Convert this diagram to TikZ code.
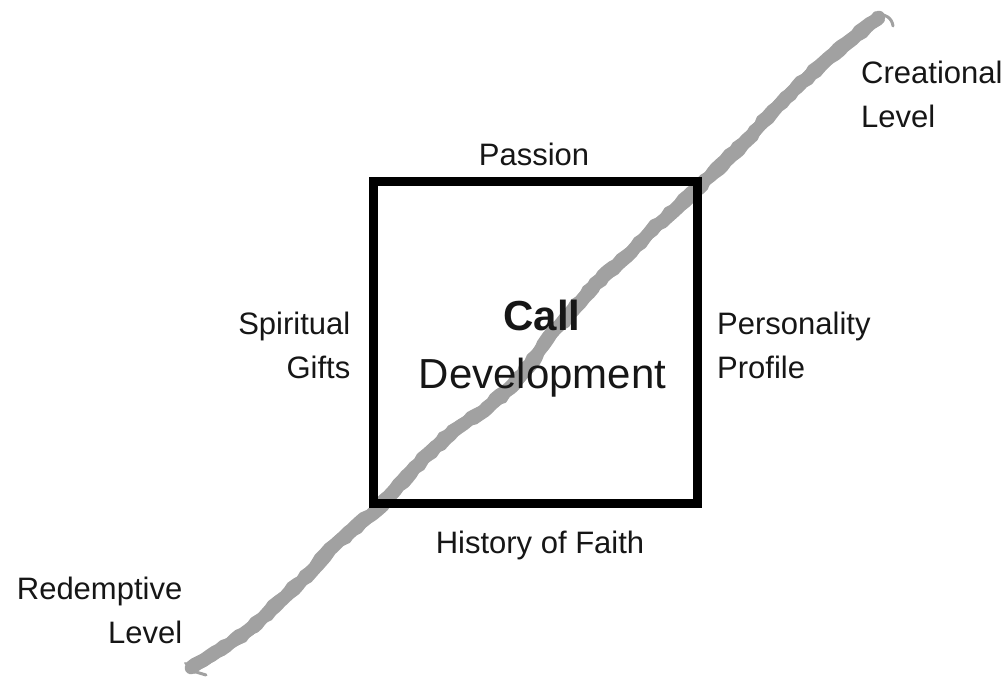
\documentclass[tikz,border=0pt]{standalone}
\usepackage{fontspec}
\setmainfont{Liberation Sans}
\usetikzlibrary{decorations.pathmorphing}

\definecolor{bandgray}{RGB}{161,161,161}
\definecolor{ink}{RGB}{22,22,22}

\begin{document}
\begin{tikzpicture}[x=1pt,y=-1pt,
  label/.style={inner sep=0pt, text=ink, font=\fontsize{31}{43.5}\selectfont},
  centre/.style={inner sep=0pt, text=ink},
  frame/.style={draw=black, line width=9pt, fill=none},
  bandline/.style={draw=bandgray, line cap=round, line join=round},
  rough/.style={bandline, decorate,
    decoration={random steps, segment length=6pt, amplitude=1.2pt}}
]
\pgfmathsetseed{4242}
\useasboundingbox (0,0) rectangle (1008,677);

% the rough grey band running from the lower left to the upper right
\def\bandpts{
  (191,668) (220,650) (253,627) (280,601) (310,573) (330,549) (352,530)
  (377,510) (395,490) (427,455) (453,431) (487,408) (510,388) (530,365)
  (548,338) (573,310) (595,284) (627,256) (652,230) (680,205) (713,173)
  (747,140) (773,111) (797,87) (820,66) (847,43) (866,27) (879,17)}
\draw[bandline, line width=12.5pt] plot[smooth, tension=0.5] coordinates \bandpts;
\begin{scope}[shift={(-3.5,-3.5)}]
  \draw[rough, line width=4.5pt] plot coordinates \bandpts;
\end{scope}
\begin{scope}[shift={(3.5,3.5)}]
  \draw[rough, line width=4.5pt] plot coordinates \bandpts;
\end{scope}
% ragged ends
\draw[bandline, line width=3pt] (877,16) .. controls (885,13) and (892,18) .. (893,26);
\draw[bandline, line width=2pt] (191,668) -- (185,663);
\draw[bandline, line width=3pt] (196,672) -- (206,675);

% the central square
\node[frame, minimum width=324pt, minimum height=322pt, anchor=north west,
  inner sep=0pt, outer sep=0pt] (sq) at (373.5,181.5) {};

% centre text
\node[centre, anchor=base, font=\fontsize{42}{50}\selectfont\bfseries] (call) at (542,330) {Call};
\node[centre, anchor=base, font=\fontsize{42}{50}\selectfont] (dev) at (542.5,388) {Development};

% surrounding labels (base anchor sits on the last line)
\node[label, anchor=base] (passion) at (534,165) {Passion};
\node[label, anchor=base] (history) at (540,553) {History of Faith};
\node[label, anchor=base east, align=right] (gifts) at (350.5,378) {Spiritual\\Gifts};
\node[label, anchor=base west, align=left] (profile) at (717,378) {Personality\\Profile};
\node[label, anchor=base west, align=left] (creational) at (861,127) {Creational\\Level};
\node[label, anchor=base east, align=right] (redemptive) at (182.5,643) {Redemptive\\Level};
\end{tikzpicture}
\end{document}
